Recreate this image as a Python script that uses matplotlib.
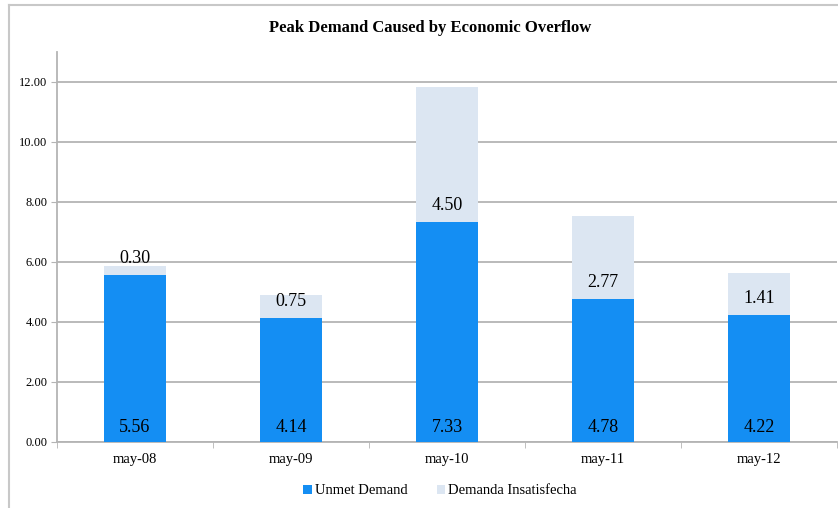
import numpy as np
import matplotlib.pyplot as plt
from matplotlib.lines import Line2D

categories = ["may-08", "may-09", "may-10", "may-11", "may-12"]
unmet = [5.56, 4.14, 7.33, 4.78, 4.22]
insatisfecha = [0.30, 0.75, 4.50, 2.77, 1.41]
yticks = [0, 2, 4, 6, 8, 10, 12]

blue = "#148ef3"
light = "#dce6f2"
grey = "#b4b4b4"

plt.rcParams['font.family'] = ['Liberation Serif', 'DejaVu Serif']

fig = plt.figure(figsize=(8.38, 5.08), dpi=100)
ax = fig.add_axes([57 / 838, 1 - 442 / 508, 780 / 838, 390 / 508])

x = np.arange(len(categories))
ax.bar(x, unmet, width=0.4, color=blue, label="Unmet Demand", zorder=3)
ax.bar(x, insatisfecha, width=0.4, bottom=unmet, color=light,
       label="Demanda Insatisfecha", zorder=3)

for i in range(len(categories)):
    ax.text(x[i], 0.5, f"{unmet[i]:.2f}", ha="center", va="center",
            fontsize=13, zorder=4)
    ax.text(x[i], unmet[i] + 0.55, f"{insatisfecha[i]:.2f}", ha="center",
            va="center", fontsize=13, zorder=4)

ax.set_xlim(-0.5, len(categories) - 0.5)
ax.set_ylim(0, 13)
ax.set_yticks(yticks)
ax.set_yticklabels([f"{v:.2f}" for v in yticks], fontsize=9)
ax.set_xticks(x)
ax.set_xticklabels(categories, fontsize=10.5)
ax.set_xticks(np.arange(len(categories) + 1) - 0.5, minor=True)
ax.tick_params(axis="x", which="major", length=0, pad=8)
ax.tick_params(axis="x", which="minor", length=4, color=grey)
ax.tick_params(axis="y", length=4, color=grey, pad=3)

ax.yaxis.grid(True, color=grey, linewidth=1.3, zorder=0)
for s in ["top", "right"]:
    ax.spines[s].set_visible(False)
for s in ["left", "bottom"]:
    ax.spines[s].set_color(grey)
    ax.spines[s].set_linewidth(1.3)

fig.text(430 / 838, 1 - 28 / 508, "Peak Demand Caused by Economic Overflow",
         ha="center", va="center", fontsize=12, fontweight="bold")

ax.legend(loc="center", bbox_to_anchor=(440 / 838, 1 - 491 / 508),
          bbox_transform=fig.transFigure, ncol=2, frameon=False,
          fontsize=10.5, handlelength=0.6, handleheight=0.6,
          handletextpad=0.2, columnspacing=2.0)

# outer frame of the sheet
fig.add_artist(Line2D([9 / 838, 1], [1 - 5 / 508, 1 - 5 / 508],
                      transform=fig.transFigure, color="#c8c8c8", linewidth=1.5))
fig.add_artist(Line2D([9 / 838, 9 / 838], [0, 1 - 5 / 508],
                      transform=fig.transFigure, color="#c8c8c8", linewidth=1.5))

fig.savefig("out.png", dpi=100)
